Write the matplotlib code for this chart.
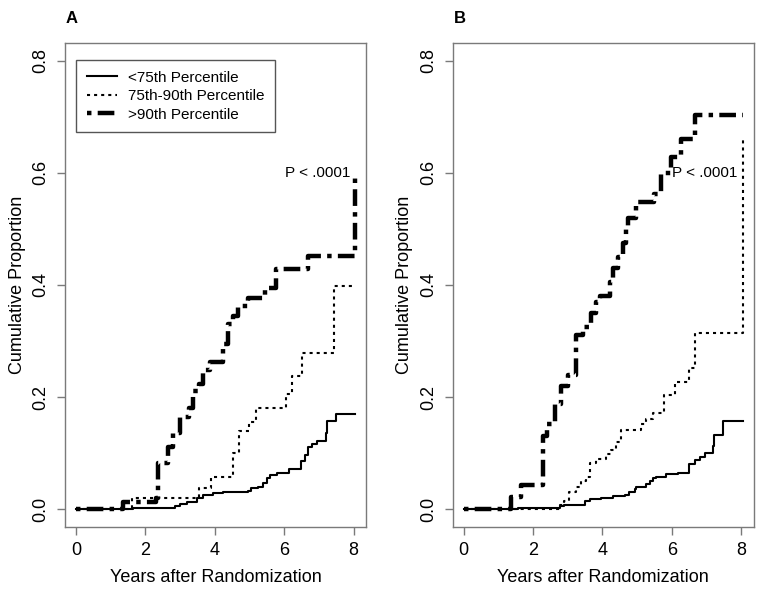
import matplotlib
matplotlib.use("Agg")
import matplotlib.pyplot as plt

plt.rcParams['font.family'] = ['Liberation Sans', 'DejaVu Sans']
plt.rcParams['lines.scale_dashes'] = False

labels = ["<75th Percentile", "75th-90th Percentile", ">90th Percentile"]
end_time = 8.04

# panel A
a_low_t = [0, 1.65, 2.85, 3.0, 3.2, 3.5, 3.65, 3.95, 4.25, 4.95, 5.05, 5.25, 5.4, 5.5, 5.6, 5.8, 6.15, 6.5, 6.6, 6.7, 6.8, 6.95, 7.2, 7.25, 7.5]
a_low_v = [0, 0.002, 0.005, 0.009, 0.012, 0.02, 0.025, 0.028, 0.03, 0.033, 0.037, 0.04, 0.047, 0.055, 0.06, 0.064, 0.072, 0.085, 0.097, 0.11, 0.116, 0.122, 0.135, 0.158, 0.17]
a_mid_t = [0, 1.6, 3.55, 3.9, 4.52, 4.7, 5.0, 5.2, 6.04, 6.23, 6.52, 7.45]
a_mid_v = [0, 0.019, 0.038, 0.058, 0.1, 0.14, 0.155, 0.181, 0.205, 0.238, 0.278, 0.398]
a_high_t = [0, 1.35, 2.3, 2.36, 2.66, 2.8, 3.0, 3.25, 3.38, 3.53, 3.67, 3.85, 4.24, 4.38, 4.53, 4.67, 4.96, 5.44, 5.77, 6.7, 8.04]
a_high_v = [0, 0.012, 0.02, 0.082, 0.11, 0.135, 0.165, 0.18, 0.211, 0.223, 0.248, 0.262, 0.294, 0.33, 0.345, 0.363, 0.377, 0.395, 0.428, 0.452, 0.592]

# panel B
b_low_t = [0, 1.57, 2.77, 2.9, 3.49, 3.63, 3.97, 4.3, 4.64, 4.78, 4.93, 4.98, 5.26, 5.36, 5.46, 5.55, 5.84, 6.18, 6.51, 6.66, 6.8, 6.95, 7.19, 7.23, 7.47]
b_low_v = [0, 0.002, 0.005, 0.008, 0.015, 0.018, 0.02, 0.023, 0.026, 0.03, 0.035, 0.04, 0.045, 0.05, 0.055, 0.058, 0.062, 0.065, 0.08, 0.087, 0.093, 0.1, 0.112, 0.133, 0.158]
b_mid_t = [0, 2.77, 2.9, 3.05, 3.25, 3.39, 3.53, 3.63, 3.82, 4.1, 4.26, 4.4, 4.54, 5.12, 5.26, 5.46, 5.77, 6.08, 6.51, 6.68, 8.04]
b_mid_v = [0, 0.008, 0.015, 0.03, 0.04, 0.05, 0.057, 0.082, 0.09, 0.098, 0.105, 0.12, 0.142, 0.152, 0.16, 0.172, 0.204, 0.227, 0.251, 0.315, 0.658]
b_high_t = [0, 1.37, 1.66, 2.3, 2.4, 2.62, 2.81, 3.0, 3.25, 3.44, 3.68, 3.82, 3.92, 4.21, 4.3, 4.45, 4.6, 4.69, 4.75, 4.98, 5.5, 5.7, 5.98, 6.27, 6.66]
b_high_v = [0, 0.022, 0.043, 0.13, 0.152, 0.188, 0.22, 0.24, 0.31, 0.325, 0.35, 0.37, 0.38, 0.405, 0.43, 0.45, 0.475, 0.5, 0.52, 0.548, 0.562, 0.6, 0.628, 0.66, 0.703]

panels = [
    ("A", [(a_low_t, a_low_v), (a_mid_t, a_mid_v), (a_high_t, a_high_v)]),
    ("B", [(b_low_t, b_low_v), (b_mid_t, b_mid_v), (b_high_t, b_high_v)]),
]

styles = [
    dict(linestyle="-", linewidth=1.5),
    dict(linestyle=(0, (2.2, 2.9)), linewidth=1.5),
    dict(linestyle=(0, (3.2, 4.5, 12.0, 4.5)), linewidth=3.2, dash_capstyle="butt"),
]

gray = "#7a7a7a"
fig = plt.figure(figsize=(7.62, 5.91), dpi=100)
lefts = [0.0853, 0.594]

for i, (letter, series) in enumerate(panels):
    ax = fig.add_axes([lefts[i], 0.1083, 0.395, 0.819])
    for (t, v), st in zip(series, styles):
        if t[-1] < end_time:
            t = t + [end_time]
            v = v + [v[-1]]
        ax.step(t, v, where="post", color="black", label=labels[len(ax.lines)], **st)
    ax.set_xlim(-0.32, 8.36)
    ax.set_ylim(-0.032, 0.832)
    ax.set_xticks([0, 2, 4, 6, 8])
    ax.set_yticks([0.0, 0.2, 0.4, 0.6, 0.8])
    ax.set_yticklabels(["0.0", "0.2", "0.4", "0.6", "0.8"], rotation=90, va="center")
    ax.tick_params(direction="out", length=6, width=1, color=gray, labelsize=13, pad=5)
    for sp in ax.spines.values():
        sp.set_color(gray)
        sp.set_linewidth(1)
    ax.set_xlabel("Years after Randomization", fontsize=13, labelpad=7)
    ax.set_ylabel("Cumulative Proportion", fontsize=13, labelpad=5)
    ax.text(7.9, 0.6, "P < .0001", ha="right", va="center", fontsize=11)
    fig.text(lefts[i] + 0.001, 0.982, letter, fontsize=12, fontweight="bold", va="top")
    if letter == "A":
        leg = ax.legend(loc="upper left", bbox_to_anchor=(0.0365, 0.965), borderaxespad=0,
                        fontsize=11, fancybox=False, handlelength=2.0, handletextpad=0.7,
                        labelspacing=0.3, borderpad=0.7, framealpha=1)
        leg.get_frame().set_edgecolor("#555555")
        leg.get_frame().set_linewidth(1)

fig.savefig("out.png", dpi=100)
